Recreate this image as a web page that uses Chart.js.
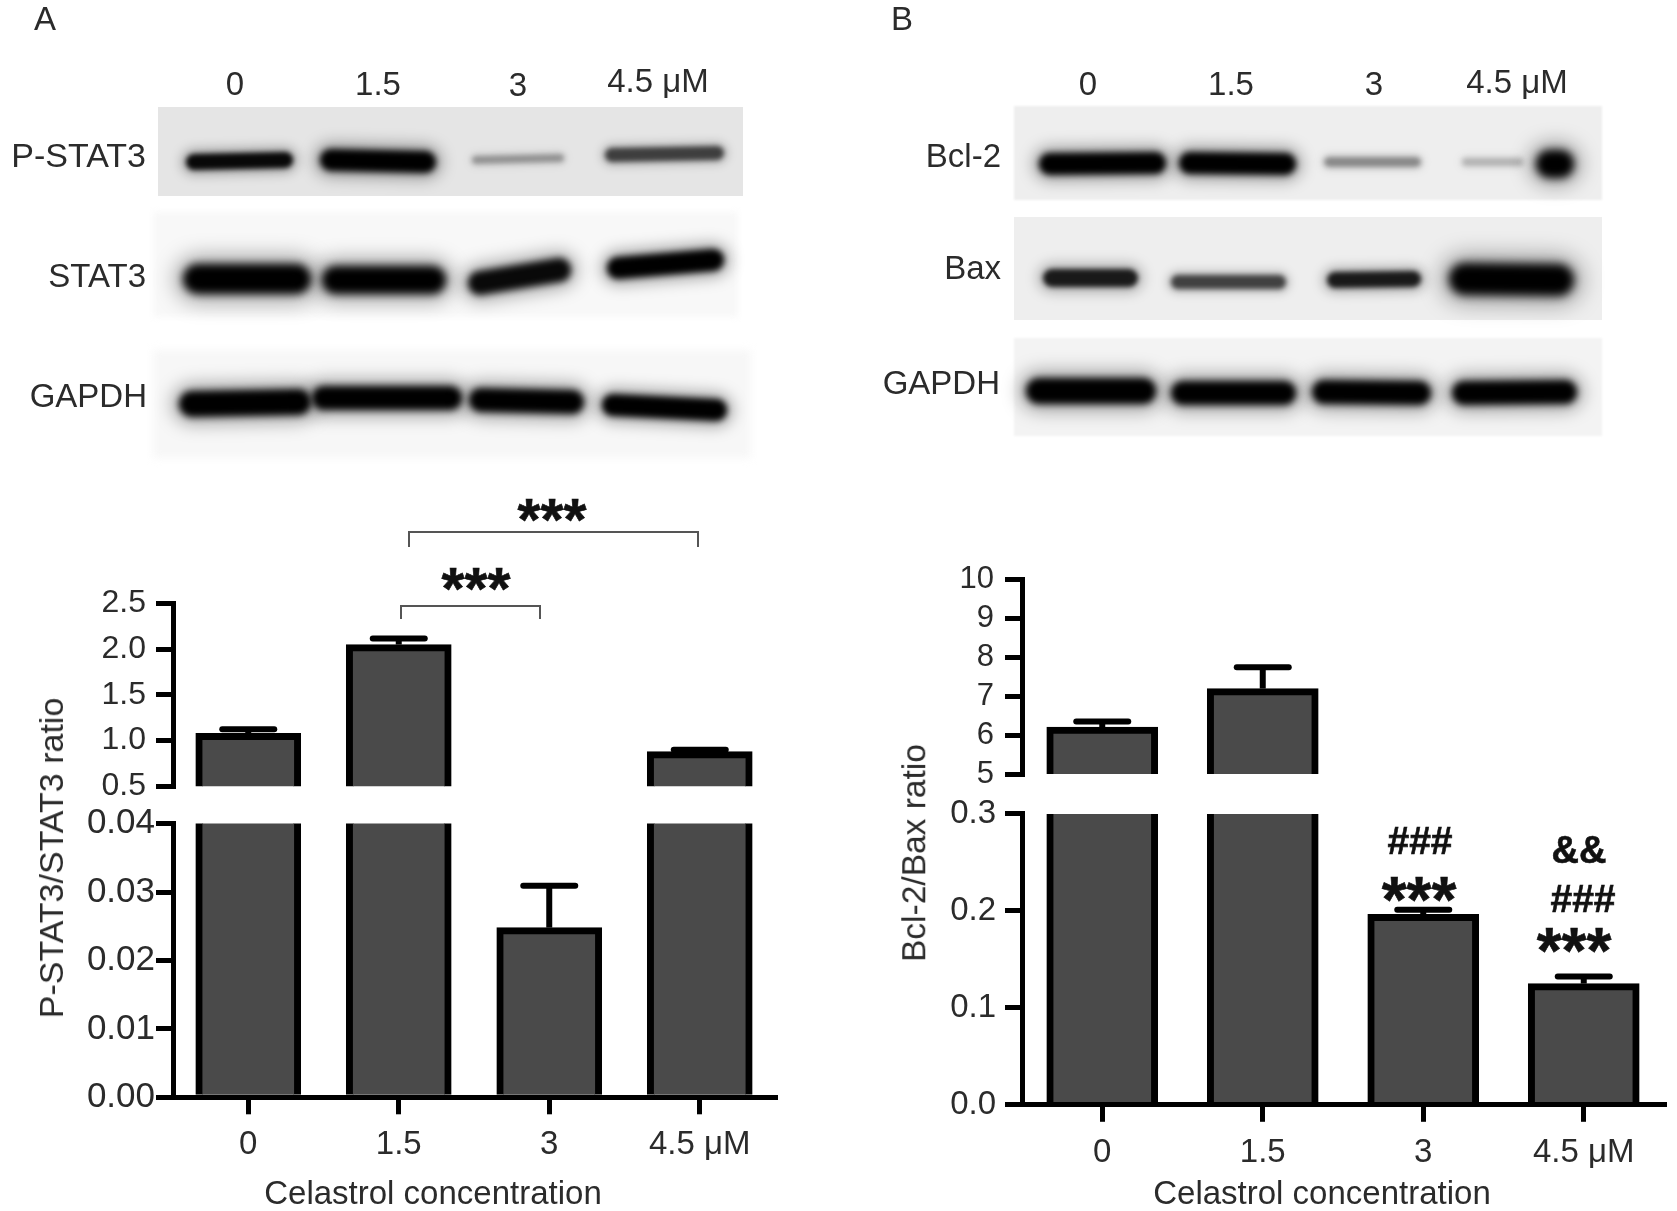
<!DOCTYPE html>
<html>
<head>
<meta charset="utf-8">
<title>Celastrol concentration</title>
<script src="https://cdn.jsdelivr.net/npm/chart.js@4"></script>
<style>
    html, body { margin: 0; padding: 0; background: #fff; }
    #page { position: relative; width: 1677px; height: 1211px; overflow: hidden; font-family: "Liberation Sans", Arial, sans-serif; color: #2b2b2b; }
    #page canvas { position: absolute; }
    .txt { position: absolute; white-space: nowrap; line-height: 1; }
    .mark { color: #111; -webkit-text-stroke: 0.6px #111; }
    .bracket { position: absolute; border: 2px solid #555; border-bottom: none; box-sizing: border-box; }
</style>
</head>
<body>
<div id="page">
    <canvas id="blots" width="1677" height="1211" style="left:0;top:0"></canvas>
    <canvas id="aTop" width="800" height="270" style="left:0;top:570px"></canvas>
    <canvas id="aLow" width="800" height="421" style="left:0;top:790px"></canvas>
    <canvas id="bTop" width="817" height="280" style="left:860px;top:550px"></canvas>
    <canvas id="bLow" width="817" height="441" style="left:860px;top:770px"></canvas>
</div>
<script>
// ── Data ────────────────────────────────────────────────────────────
const doses = ['0', '1.5', '3', '4.5 μM'];

const ratioA = [1.08, 2.05, 0.0248, 0.88];
const errorA = [0.045, 0.065, 0.0061, 0.02];
const ticksATop = [0.5, 1.0, 1.5, 2.0, 2.5];
const ticksALow = [0.00, 0.01, 0.02, 0.03, 0.04];

const ratioB = [6.21, 7.2, 0.1965, 0.125];
const errorB = [0.14, 0.55, 0.0047, 0.0074];
const ticksBTop = [5, 6, 7, 8, 9, 10];
const ticksBLow = [0.0, 0.1, 0.2, 0.3];

const BAR_FILL = '#4a4a4a';
const FONT_FAMILY = '"Liberation Sans", Arial, sans-serif';

// ── Error bars, read through the chart's own scales ─────────────────
const errorBars = {
    id: 'errorBars',
    afterDatasetsDraw(chart, args, opts) {
        const { ctx, scales: { x, y } } = chart;
        ctx.save();
        ctx.strokeStyle = '#000';
        ctx.lineWidth = 6;
        opts.values.forEach((v, i) => {
            if (v < y.min || v > y.max) return;
            const px = x.getPixelForValue(i);
            const y0 = y.getPixelForValue(v);
            const y1 = y.getPixelForValue(v + opts.errors[i]);
            ctx.lineCap = 'butt';
            ctx.beginPath();
            ctx.moveTo(px, y0);
            ctx.lineTo(px, y1);
            ctx.stroke();
            ctx.lineCap = 'round';
            ctx.beginPath();
            ctx.moveTo(px - 26, y1);
            ctx.lineTo(px + 26, y1);
            ctx.stroke();
        });
        ctx.restore();
    }
};

// One segment of a broken axis is one chart
function segment(id, box, values, errors, ticks, decimals, showX) {
    const canvas = document.getElementById(id);
    const min = ticks[0];
    const max = ticks[ticks.length - 1];
    const top = parseFloat(canvas.style.top);
    const left = parseFloat(canvas.style.left);

    new Chart(canvas, {
        type: 'bar',
        plugins: [errorBars],
        data: {
            labels: doses,
            datasets: [{
                data: values.map(v => (v < min ? null : v)),
                backgroundColor: BAR_FILL,
                borderColor: '#000',
                borderWidth: 7,
                borderSkipped: 'bottom',
                barThickness: box.barWidth
            }]
        },
        options: {
            responsive: false,
            animation: false,
            layout: {
                padding: {
                    top: box.top - top,
                    right: left + canvas.width - box.right,
                    bottom: 0,
                    left: 0
                }
            },
            plugins: {
                legend: { display: false },
                tooltip: { enabled: false },
                errorBars: { values, errors }
            },
            scales: {
                x: {
                    display: showX,
                    offset: true,
                    afterFit: s => { s.height = top + canvas.height - box.bottom; },
                    grid: { offset: false, drawOnChartArea: false, color: '#000', tickLength: 17, lineWidth: 5 },
                    border: { color: '#000', width: 5, z: 1 },
                    ticks: { font: { family: FONT_FAMILY, size: 33 }, color: '#2b2b2b', padding: 11, maxRotation: 0, autoSkip: false }
                },
                y: {
                    min, max,
                    afterFit: s => { s.width = box.left - left; },
                    afterBuildTicks: s => { s.ticks = ticks.map(value => ({ value })); },
                    grid: { drawOnChartArea: false, color: '#000', tickLength: 17, lineWidth: 5 },
                    border: { color: '#000', width: 5 },
                    ticks: { font: { family: FONT_FAMILY, size: box.tickSize }, color: '#2b2b2b', padding: box.tickPad, autoSkip: false, callback: v => v.toFixed(decimals) }
                }
            }
        }
    });
}

segment('aTop', { left: 173, right: 775, top: 603.4, bottom: 786.3, barWidth: 105, tickSize: 32, tickPad: 10 }, ratioA, errorA, ticksATop, 1, false);
segment('aLow', { left: 173, right: 775, top: 823.6, bottom: 1097.3, barWidth: 105, tickSize: 35, tickPad: 1 }, ratioA, errorA, ticksALow, 2, true);
segment('bTop', { left: 1022, right: 1664, top: 579.8, bottom: 774, barWidth: 111, tickSize: 31, tickPad: 11 }, ratioB, errorB, ticksBTop, 0, false);
segment('bLow', { left: 1022, right: 1664, top: 813.9, bottom: 1104.8, barWidth: 111, tickSize: 33, tickPad: 9 }, ratioB, errorB, ticksBLow, 1, true);

// ── Texts around the charts ─────────────────────────────────────────
function text(str, x, y, size, extra) {
    const o = extra || {};
    const el = document.createElement('div');
    el.className = 'txt';
    el.textContent = str;
    el.style.left = x + 'px';
    el.style.top = y + 'px';
    el.style.fontSize = size + 'px';
    if (o.bold) { el.style.fontWeight = 'bold'; el.classList.add('mark'); }
    const shift = o.right ? '-100%' : '-50%';
    el.style.transform = 'translate(' + shift + ',-50%)' + (o.rotate ? ' rotate(-90deg)' : '');
    document.getElementById('page').appendChild(el);
}

function bracket(x0, x1, y0, y1) {
    const el = document.createElement('div');
    el.className = 'bracket';
    el.style.cssText = 'left:' + x0 + 'px;top:' + y0 + 'px;width:' + (x1 - x0) + 'px;height:' + (y1 - y0) + 'px';
    document.getElementById('page').appendChild(el);
}

text('A', 45, 18, 33);
text('B', 902, 18, 33);

text('P-STAT3', 146, 155, 34, { right: true });
text('STAT3', 146, 275, 33, { right: true });
text('GAPDH', 147, 395, 33, { right: true });
text('Bcl-2', 1001, 155, 33, { right: true });
text('Bax', 1001, 267, 33, { right: true });
text('GAPDH', 1000, 382, 33, { right: true });

[[235, 83], [378, 83], [518, 84], [658, 80]].forEach((p, i) => text(doses[i], p[0], p[1], 33));
[[1088, 83], [1231, 83], [1374, 83], [1517, 81]].forEach((p, i) => text(doses[i], p[0], p[1], 33));

text('P-STAT3/STAT3 ratio', 51, 858, 34, { rotate: true });
text('Bcl-2/Bax ratio', 914, 853, 33.5, { rotate: true });
text('Celastrol concentration', 433, 1192, 33);
text('Celastrol concentration', 1322, 1192, 33);

bracket(408, 699, 531, 547);
bracket(400, 541, 605, 619);
text('***', 552, 520, 59, { bold: true });
text('***', 476, 589, 59, { bold: true });

text('###', 1420, 840, 39, { bold: true });
text('***', 1419, 900, 64, { bold: true });
text('&&', 1579, 850, 38, { bold: true });
text('###', 1583, 898, 39, { bold: true });
text('***', 1574, 951, 64, { bold: true });

// ── Western blot strips (photographs in the original) ───────────────
function drawBlots() {
    const ctx = document.getElementById('blots').getContext('2d');

    function strip(x, y, w, h, shade, soft) {
        ctx.save();
        ctx.filter = 'blur(' + soft + 'px)';
        ctx.fillStyle = shade;
        ctx.fillRect(x, y, w, h);
        ctx.restore();
    }
    // band: x0, y0, x1, y1, half thickness, darkness
    function band(x0, y0, x1, y1, half, dark) {
        function pass(h, blur, alpha) {
            ctx.save();
            ctx.filter = 'blur(' + blur + 'px)';
            ctx.strokeStyle = 'rgba(0,0,0,' + alpha + ')';
            ctx.lineWidth = h * 2;
            ctx.lineCap = 'round';
            ctx.beginPath();
            ctx.moveTo(x0 + half, y0);
            ctx.lineTo(x1 - half, y1);
            ctx.stroke();
            ctx.restore();
        }
        pass(half * 1.5, Math.max(4, half * 0.7), dark * 0.35);
        pass(half, Math.max(2.5, half * 0.3), dark);
    }

    strip(158, 107, 585, 89, '#e5e5e5', 0.5);
    strip(153, 212, 585, 105, '#f8f8f8', 3);
    strip(153, 350, 598, 108, '#f7f7f7', 4);
    strip(1014, 106, 588, 94, '#eeeeee', 1);
    strip(1014, 217, 588, 103, '#eeeeee', 0.5);
    strip(1014, 338, 588, 98, '#f3f3f3', 1);

    band(186, 162, 293, 160, 8, 0.95);
    band(320, 160, 436, 162, 11, 1);
    band(472, 160, 564, 158, 4, 0.3);
    band(605, 155, 724, 153, 7, 0.65);

    band(183, 279, 311, 279, 15, 1);
    band(322, 280, 446, 280, 14, 1);
    band(468, 283, 571, 270, 12, 0.95);
    band(607, 268, 724, 260, 11, 1);

    band(179, 404, 311, 402, 13, 1);
    band(312, 398, 462, 398, 12, 1);
    band(469, 400, 584, 402, 12, 1);
    band(602, 405, 727, 410, 11, 1);

    band(1039, 164, 1166, 163, 11, 1);
    band(1179, 163, 1296, 164, 11, 1);
    band(1324, 162, 1421, 162, 5, 0.35);
    band(1462, 162, 1523, 162, 4, 0.2);
    band(1536, 164, 1574, 164, 14, 1);

    band(1043, 278, 1138, 278, 9, 0.85);
    band(1171, 282, 1286, 282, 7, 0.65);
    band(1327, 280, 1421, 279, 8, 0.85);
    band(1449, 279, 1574, 280, 16, 1);

    band(1026, 391, 1156, 391, 13, 1);
    band(1171, 393, 1296, 393, 12, 1);
    band(1312, 392, 1431, 393, 12, 1);
    band(1452, 393, 1577, 392, 12, 1);
}
drawBlots();
</script>
</body>
</html>
